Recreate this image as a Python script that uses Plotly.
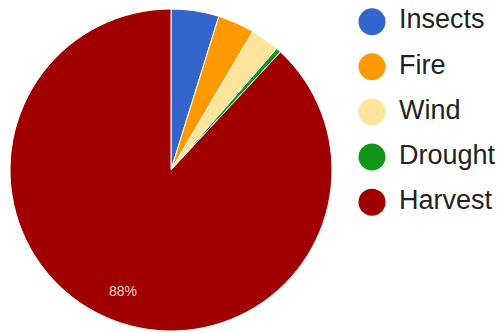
import math
import plotly.graph_objects as go

categories = ["Insects", "Fire", "Wind", "Drought", "Harvest"]
values = [4.8, 3.7, 2.9, 0.5, 88.1]
slice_labels = ["", "", "", "", "88%"]
colors = ["#3366CC", "#FF9900", "#FFE49C", "#109618", "#A00000"]

W, H = 502, 333
CX, CY, R = 171, 170, 161  # pie centre and radius in px

fig = go.Figure()
fig.add_trace(go.Pie(
    labels=categories,
    values=values,
    textinfo="none",
    sort=False,
    direction="clockwise",
    rotation=0,
    marker=dict(colors=colors, line=dict(color="white", width=1)),
    domain=dict(x=[(CX - R) / W, (CX + R) / W], y=[(H - CY - R) / H, (H - CY + R) / H]),
    showlegend=False,
    hoverinfo="label+percent",
))

# legend drawn as a category scatter column: circles + labels
fig.add_trace(go.Scatter(
    x=[372 / W] * len(categories),
    y=categories,
    mode="markers",
    marker=dict(size=27, color=colors, line=dict(width=0)),
    showlegend=False,
    hoverinfo="skip",
    cliponaxis=False,
))
fig.add_trace(go.Scatter(
    x=[399 / W] * len(categories),
    y=categories,
    mode="text",
    text=categories,
    textposition="middle right",
    textfont=dict(family="Arial", size=27, color="#222222"),
    showlegend=False,
    hoverinfo="skip",
    cliponaxis=False,
))

# slice labels placed at the slice's mid angle, computed from the data
total = sum(values)
cum = 0.0
annotations = []
for v, lab in zip(values, slice_labels):
    mid = (cum + v / 2) / total * 2 * math.pi
    cum += v
    if not lab:
        continue
    px = CX + 0.81 * R * math.sin(mid)
    py = CY - 0.81 * R * math.cos(mid)
    annotations.append(dict(
        x=px / W, y=1 - py / H, xref="paper", yref="paper",
        xanchor="center", yanchor="middle",
        text=lab, showarrow=False,
        font=dict(family="Arial", size=14, color="#F4D6D6"),
    ))

fig.update_layout(
    width=W, height=H,
    margin=dict(l=0, r=0, t=0, b=0),
    paper_bgcolor="white",
    plot_bgcolor="rgba(0,0,0,0)",
    xaxis=dict(range=[0, 1], visible=False, fixedrange=True),
    yaxis=dict(type="category", categoryorder="array", categoryarray=categories,
               range=[6.90, -0.481], visible=False, fixedrange=True),
    annotations=annotations,
)

fig.write_html("out.html", config={"displayModeBar": False},
               post_script="document.body.style.margin='0';")
